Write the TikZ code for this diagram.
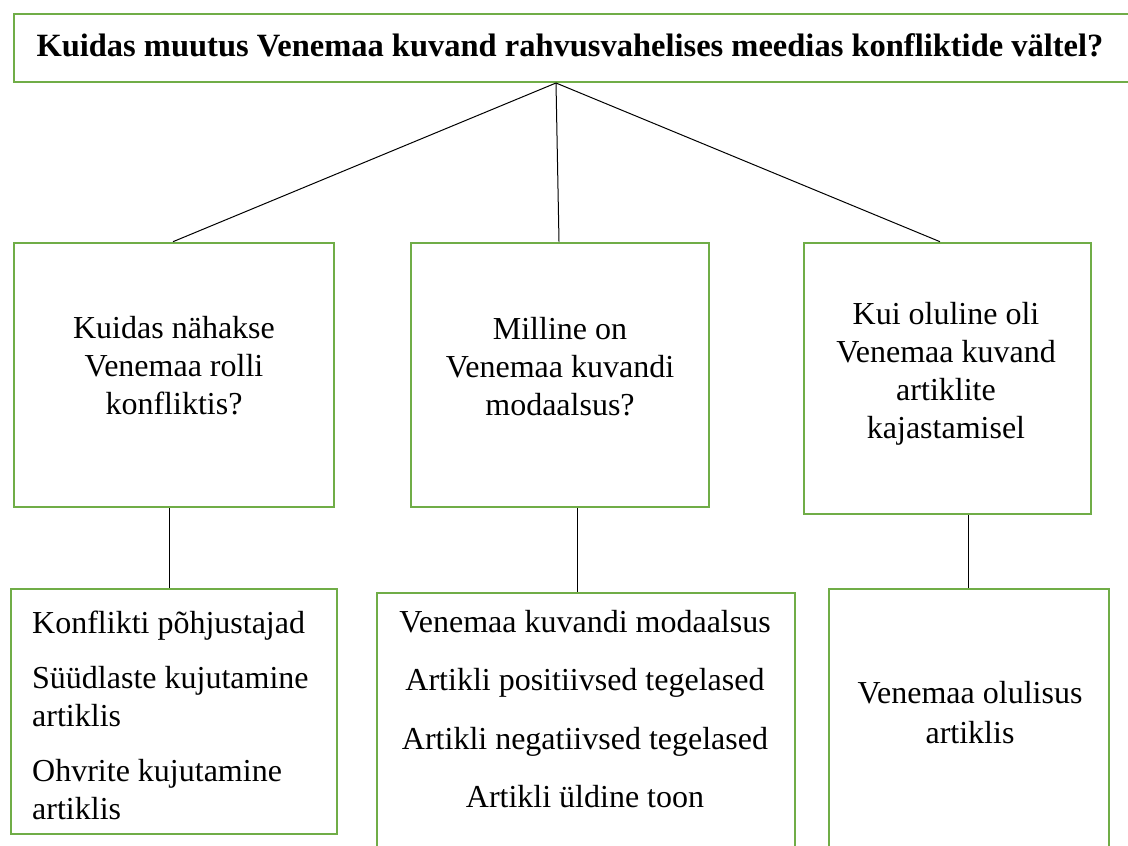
\documentclass[tikz,border=0pt]{standalone}
\usepackage{fontspec}
\setmainfont{Liberation Serif}
\definecolor{boxgreen}{HTML}{70AD47}
\begin{document}
\begin{tikzpicture}[x=1pt,y=-1pt,
  gbox/.style={draw=boxgreen, line width=2.6pt, rectangle, inner sep=0pt},
  txt/.style={font=\fontsize{32}{38}\selectfont, inner sep=0pt, align=center},
  link/.style={draw=black, line width=1pt}]
\useasboundingbox (0,0) rectangle (1128,846);
\clip (0,0) rectangle (1128,846);
% boxes
\node[gbox, minimum width=1136pt, minimum height=68pt] (top) at (582,48) {};
\node[gbox, minimum width=320pt, minimum height=264pt] (m1) at (174,375) {};
\node[gbox, minimum width=298pt, minimum height=264pt] (m2) at (560,375) {};
\node[gbox, minimum width=287pt, minimum height=271pt] (m3) at (947.5,378.5) {};
\node[gbox, minimum width=326pt, minimum height=245pt] (b1) at (174,711.5) {};
\node[gbox, minimum width=418pt, minimum height=287pt] (b2) at (586,736.5) {};
\node[gbox, minimum width=280pt, minimum height=291pt] (b3) at (969,734.5) {};
% texts (base anchor = baseline of the last line)
\node[txt, anchor=base, font=\fontsize{32.5}{38}\selectfont\bfseries] (t0) at (570,56) {Kuidas muutus Venemaa kuvand rahvusvahelises meedias konfliktide vältel?};
\node[txt, anchor=base] (t1) at (174,414) {Kuidas nähakse\\Venemaa rolli\\konfliktis?};
\node[txt, anchor=base] (t2) at (560,415) {Milline on\\Venemaa kuvandi\\modaalsus?};
\node[txt, anchor=base] (t3) at (946,438.5) {Kui oluline oli\\Venemaa kuvand\\artiklite\\kajastamisel};
\node[txt, anchor=base west, align=left] (t4) at (32,819.5) {Konflikti põhjustajad\\[17pt]Süüdlaste kujutamine\\artiklis\\[17pt]Ohvrite kujutamine\\artiklis};
\node[txt, anchor=base] (t5) at (585,807.5) {Venemaa kuvandi modaalsus\\[20.5pt]Artikli positiivsed tegelased\\[20.5pt]Artikli negatiivsed tegelased\\[20.5pt]Artikli üldine toon};
\node[txt, anchor=base] (t6) at (970,743) {Venemaa olulisus\\[2pt]artiklis};
% connectors
\coordinate (apex) at (556,83);
\draw[link] (apex) -- ([xshift=-1pt]m1.north);
\draw[link] (apex) -- ([xshift=-1pt]m2.north);
\draw[link] (apex) -- ([xshift=-7.5pt]m3.north);
\coordinate (v1) at (169,0);
\coordinate (v2) at (577,0);
\coordinate (v3) at (968,0);
\draw[link] (m1.south -| v1) -- (b1.north -| v1);
\draw[link] (m2.south -| v2) -- (b2.north -| v2);
\draw[link] (m3.south -| v3) -- (b3.north -| v3);
\end{tikzpicture}
\end{document}
